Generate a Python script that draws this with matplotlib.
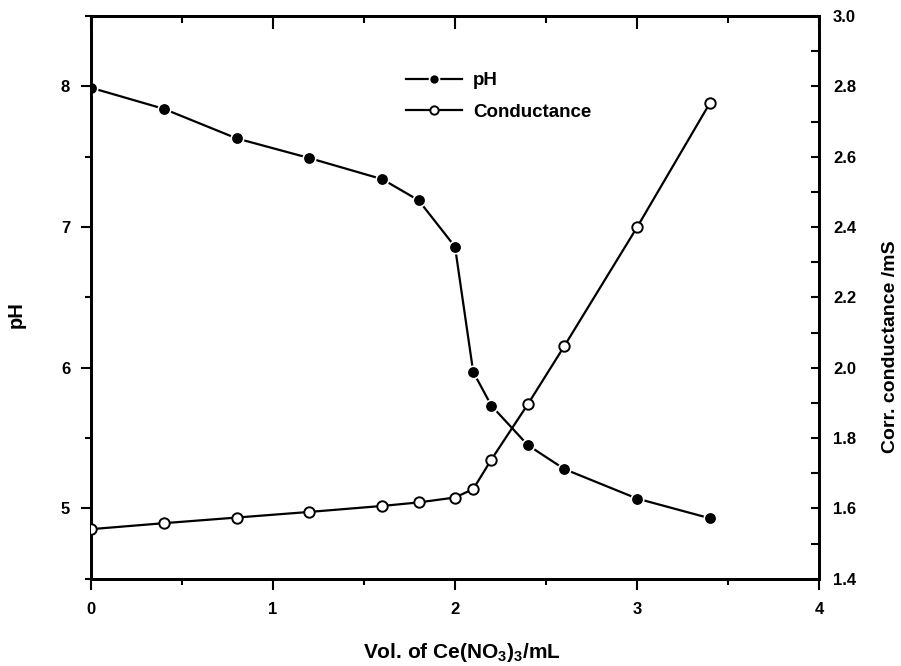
import matplotlib
matplotlib.use("Agg")
import matplotlib.pyplot as plt
from matplotlib.ticker import MultipleLocator

plt.rcParams['font.family'] = ['Liberation Sans', 'DejaVu Sans']
plt.rcParams['font.weight'] = 'bold'
plt.rcParams['axes.labelweight'] = 'bold'
plt.rcParams['mathtext.fontset'] = 'custom'
plt.rcParams['mathtext.rm'] = 'Liberation Sans:bold'
plt.rcParams['mathtext.bf'] = 'Liberation Sans:bold'
plt.rcParams['mathtext.default'] = 'bf'

# volume of Ce(NO3)3 added, mL
vol = [0.0, 0.4, 0.8, 1.2, 1.6, 1.8, 2.0, 2.1, 2.2, 2.4, 2.6, 3.0, 3.4]
ph = [7.99, 7.84, 7.63, 7.49, 7.34, 7.19, 6.86, 5.97, 5.73, 5.45, 5.28, 5.07, 4.93]
cond = [1.541, 1.558, 1.574, 1.590, 1.607, 1.617, 1.631, 1.655, 1.739, 1.896,
        2.061, 2.399, 2.752]

fig = plt.figure(figsize=(9.01, 6.66), dpi=100)
ax = fig.add_axes([0.101, 0.131, 0.808, 0.845])
ax2 = ax.twinx()

l1, = ax.plot(vol, ph, color='black', lw=1.6, marker='o', ms=9,
              mfc='black', mec='white', mew=1.2, label='pH', zorder=3)
l2, = ax2.plot(vol, cond, color='black', lw=1.6, marker='o', ms=7.5,
               mfc='white', mec='black', mew=1.4, label='Conductance', zorder=3)

ax.set_xlim(0, 4)
ax.set_ylim(4.5, 8.5)
ax2.set_ylim(1.4, 3.0)

ax.xaxis.set_major_locator(MultipleLocator(1))
ax.xaxis.set_minor_locator(MultipleLocator(0.5))
ax.yaxis.set_major_locator(MultipleLocator(1))
ax.yaxis.set_minor_locator(MultipleLocator(0.5))
ax2.yaxis.set_major_locator(MultipleLocator(0.2))
ax2.yaxis.set_minor_locator(MultipleLocator(0.1))

ax.tick_params(axis='x', which='major', direction='out', length=8, width=1.5,
               labelsize=12, pad=9)
ax.tick_params(axis='y', which='major', direction='out', length=7, width=1.5,
               labelsize=12, pad=8)
ax.tick_params(axis='both', which='minor', direction='out', length=4, width=1.5)
ax2.tick_params(axis='y', which='major', direction='in', length=6, width=1.5,
                labelsize=12, pad=10)
ax2.tick_params(axis='y', which='minor', direction='in', length=6, width=1.5)

top = ax.secondary_xaxis('top')
top.xaxis.set_major_locator(MultipleLocator(1))
top.xaxis.set_minor_locator(MultipleLocator(0.5))
top.tick_params(which='major', direction='in', length=9, width=1.5, labeltop=False)
top.tick_params(which='minor', direction='in', length=5, width=1.5)
top.spines['top'].set_linewidth(2)

for a in (ax, ax2):
    for s in a.spines.values():
        s.set_linewidth(2)

ax2.set_yticks([1.4, 1.6, 1.8, 2.0, 2.2, 2.4, 2.6, 2.8, 3.0])
ax2.set_yticklabels(['1.4', '1.6', '1.8', '2.0', '2.2', '2.4', '2.6', '2.8', '3.0'])

ax.set_xlabel(r'Vol. of Ce(NO$_{3}$)$_{3}$/mL', fontsize=15)
ax.xaxis.set_label_coords(0.51, -0.11)
ax.set_ylabel('pH', fontsize=14.5)
ax.yaxis.set_label_coords(-0.09, 0.47)
ax2.set_ylabel('Corr. conductance /mS', fontsize=14)
ax2.yaxis.set_label_coords(1.087, 0.412)

ax.legend([l1, l2], ['pH', 'Conductance'], loc='upper left',
          bbox_to_anchor=(0.409, 0.93), frameon=False, fontsize=13.5,
          handlelength=3.0, handletextpad=0.6, labelspacing=0.75, markerscale=0.8)

fig.savefig('out.png', dpi=100)
